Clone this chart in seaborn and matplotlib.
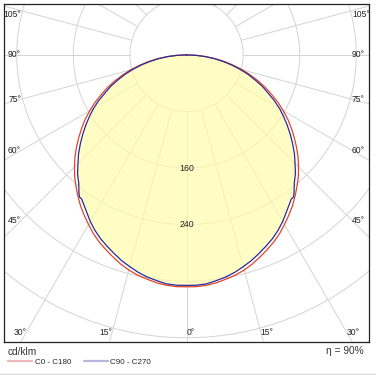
import numpy as np
import pandas as pd
import matplotlib.pyplot as plt
from matplotlib.lines import Line2D
import seaborn as sns

gamma_c0 = [0, 2.5, 5, 7.5, 10, 12.5, 15, 17.5, 20, 22.5, 25, 27.5, 30, 32.5, 35, 37.5, 40, 42.5,
            45, 47.5, 50, 52.5, 55, 57.5, 60, 62.5, 65, 67.5, 70, 72.5, 75, 77.5, 80, 82.5, 85, 87.5, 90]
i_c0 = [328, 328, 327, 325, 322, 319, 315, 310, 304, 298, 292, 285, 277, 269, 261, 252, 243, 234,
        224, 214, 203, 192, 181, 170, 158, 146, 133, 121, 108, 95, 82, 68, 55, 41, 27, 14, 0]

gamma_c90 = [0, 2.5, 5, 7.5, 10, 12.5, 15, 17.5, 20, 22.5, 25, 27.5, 30, 32.5, 35, 36, 37, 38, 40, 42.5,
             45, 47.5, 50, 52.5, 55, 57.5, 60, 62.5, 65, 67.5, 70, 72.5, 75, 77.5, 80, 82.5, 85, 87.5, 90]
i_c90 = [326, 326, 325, 322, 319, 315, 310, 305, 299, 293, 287, 280, 272, 263, 255, 252, 251.5, 247, 237, 228,
         217, 207, 196, 185, 174, 163, 152, 140, 127, 116, 103, 91, 78, 65, 52, 39, 26, 13, 0]

curve_names = ['C0 - C180', 'C90 - C270']
curve_colors = ['#e2452a', '#2a2a9c']
legend_colors = ['#ebb8b8', '#b8b8de']

ring_values = [80, 160, 240, 320, 400, 480]
ring_labels = [160, 240]
ray_angles = list(range(0, 360, 15))
angle_labels = [0, 15, 30, 45, 60, 75, 90, 105]
unit_label = 'cd/klm'
efficiency_label = 'η = 90%'

sns.set_style('white')
plt.rcParams['font.family'] = ['Liberation Sans', 'DejaVu Sans']


def to_xy(gamma, inten):
    # full plane: C180/C270 half on the left, C0/C90 half on the right
    g = np.radians(np.asarray(gamma, dtype=float))
    r = np.asarray(inten, dtype=float)
    x = np.concatenate([-(r * np.sin(g))[::-1], (r * np.sin(g))[1:]])
    y = np.concatenate([(-r * np.cos(g))[::-1], (-r * np.cos(g))[1:]])
    return x, y


fig = plt.figure(figsize=(3.76, 3.75), dpi=100)
ax = fig.add_axes([4 / 376, 1 - 342 / 375, 365 / 376, 338 / 375])
xlim = (-258, 258)
ylim = (-406, 72)
ax.set_xlim(*xlim)
ax.set_ylim(*ylim)

# polar grid
t = np.linspace(0, 2 * np.pi, 500)
grid_kw = dict(color='#d4d4d4', lw=0.7, zorder=1)
for rv in ring_values:
    ax.plot(rv * np.sin(t), rv * np.cos(t), **grid_kw)
for a in ray_angles:
    ar = np.radians(a)
    ax.plot([ring_values[0] * np.sin(ar), 900 * np.sin(ar)],
            [-ring_values[0] * np.cos(ar), -900 * np.cos(ar)], **grid_kw)

# translucent fill under the C90-C270 curve
xb, yb = to_xy(gamma_c90, i_c90)
ax.fill(xb, yb, color='#fffbab', alpha=0.7, zorder=2, lw=0)

# curves
frames = []
for name, g, iv in [(curve_names[0], gamma_c0, i_c0), (curve_names[1], gamma_c90, i_c90)]:
    x, y = to_xy(g, iv)
    frames.append(pd.DataFrame({'x': x, 'y': y, 'plane': name}))
df = pd.concat(frames, ignore_index=True)
sns.lineplot(data=df, x='x', y='y', hue='plane', units='plane', estimator=None, sort=False,
             palette=dict(zip(curve_names, curve_colors)), lw=0.9, legend=False, ax=ax, zorder=3)

# ring labels along the 0 deg ray
for rv in ring_labels:
    ax.text(0, -rv, str(rv), ha='center', va='center', fontsize=6.3, zorder=4, color='#222222')

# angle labels where the rays meet an inset rectangle
px = 516 / 365
x_in = (xlim[0] + 17 * px, xlim[1] - 17 * px)
y_in = (ylim[0] + 10 * px, ylim[1] - 11 * px)
for a in angle_labels:
    sides = [1] if a == 0 else [-1, 1]
    for s in sides:
        ar = np.radians(a)
        dx, dy = s * np.sin(ar), -np.cos(ar)
        if a >= 45:
            lx = x_in[1] if s > 0 else x_in[0]
            ly = np.clip(lx / dx * dy, y_in[0], y_in[1])
        else:
            ly = y_in[0]
            lx = np.clip(ly / dy * dx, x_in[0], x_in[1])
        ha = 'left' if s > 0 else 'right'
        ax.text(lx, ly, f'{a}°', ha=ha, va='center', fontsize=6.2, zorder=4, color='#222222')

ax.set_xticks([])
ax.set_yticks([])
ax.set_xlabel('')
ax.set_ylabel('')
for sp in ax.spines.values():
    sp.set_color('#222222')
    sp.set_linewidth(0.9)

# texts and legend under the chart
fig.text(8 / 376, 1 - 352 / 375, unit_label, fontsize=7.3, va='center', color='#333333')
fig.text(364 / 376, 1 - 351 / 375, efficiency_label, fontsize=7.3, ha='right', va='center', color='#333333')
handles = [Line2D([], [], color=c, lw=1.6) for c in legend_colors]
fig.legend(handles, curve_names, loc='center left', bbox_to_anchor=(8 / 376, 1 - 362 / 375),
           ncol=2, frameon=False, fontsize=5.8, handlelength=3.0, handletextpad=0.3,
           columnspacing=1.6, borderpad=0, borderaxespad=0)
fig.add_artist(Line2D([0, 1], [1 - 373.5 / 375, 1 - 373.5 / 375], transform=fig.transFigure,
                      color='#d8d8d8', lw=1))

plt.savefig('out.png', dpi=100)
plt.close(fig)
